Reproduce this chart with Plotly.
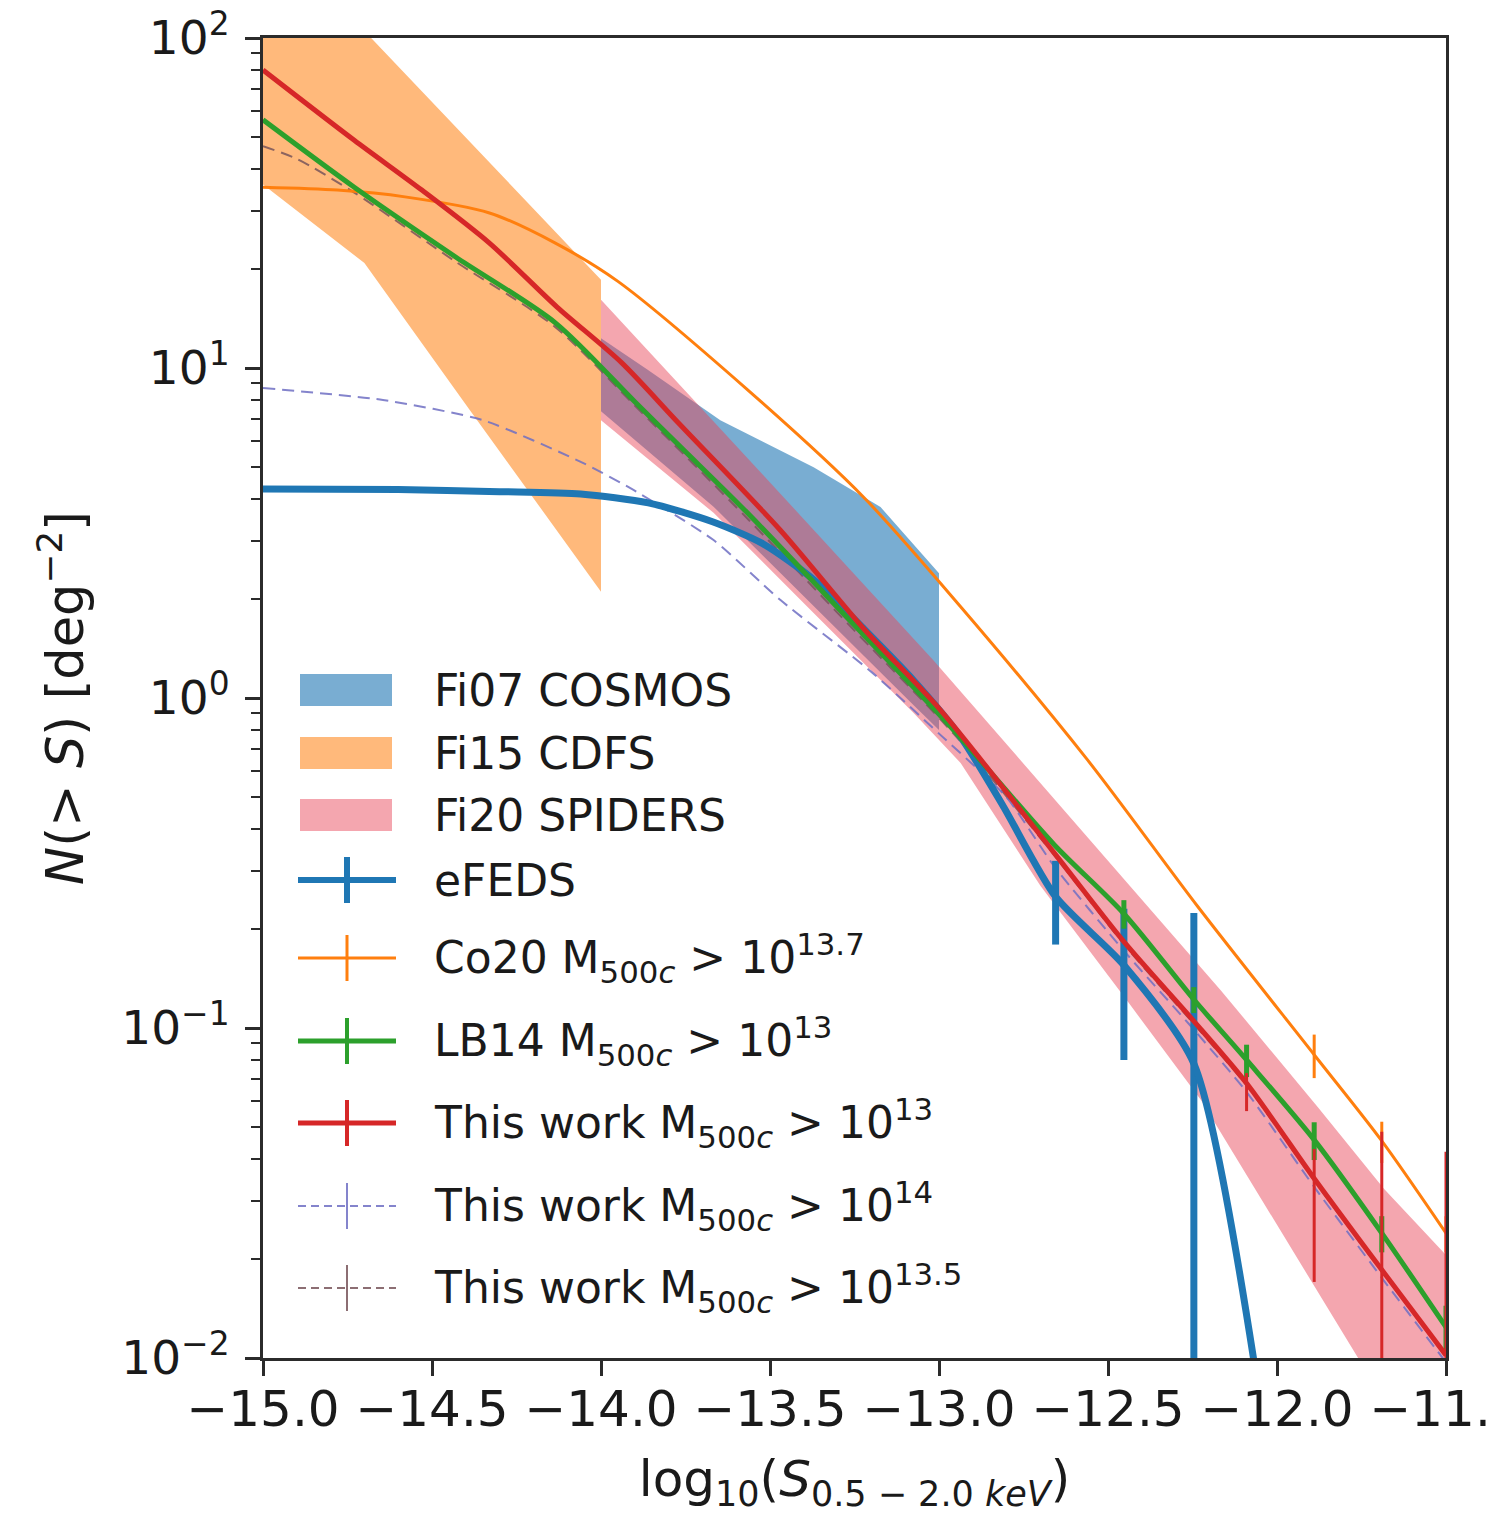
import plotly.graph_objects as go

# ---------------- data ----------------
x_ticks = [-15.0, -14.5, -14.0, -13.5, -13.0, -12.5, -12.0, -11.5]
x_tick_labels = ["−15.0", "−14.5", "−14.0", "−13.5", "−13.0", "−12.5", "−12.0", "−11.5"]
y_ticks = [0.01, 0.1, 1, 10, 100]
y_tick_labels = ["10<sup>−2</sup>", "10<sup>−1</sup>", "10<sup>0</sup>", "10<sup>1</sup>", "10<sup>2</sup>"]

# Fi07 COSMOS band
cosmos_x_up = [-14.0, -13.863, -13.647, -13.371, -13.173, -13.0]
cosmos_y_up = [12.3, 9.9, 6.95, 5.0, 3.79, 2.39]
cosmos_x_lo = [-14.0, -13.667, -13.371, -13.075, -13.0]
cosmos_y_lo = [7.4, 3.8, 1.9, 0.95, 0.80]

# Fi15 CDFS band
cdfs_x_up = [-15.0, -14.68, -14.0]
cdfs_y_up = [220, 100, 18.5]
cdfs_x_lo = [-15.0, -14.7, -14.39, -14.0]
cdfs_y_lo = [36, 20.8, 7.5, 2.1]

# Fi20 SPIDERS band
spiders_x_up = [-14.0, -13.5, -13.016, -12.52, -12.166, -11.879, -11.683, -11.5]
spiders_y_up = [16.1, 4.5, 1.30, 0.34, 0.13, 0.0575, 0.0325, 0.0205]
spiders_x_lo = [-14.0, -13.667, -13.371, -13.075, -12.936, -12.7, -12.441, -12.225, -11.76, -11.5]
spiders_y_lo = [6.95, 3.64, 1.81, 0.90, 0.635, 0.27, 0.12, 0.0605, 0.01, 0.0037]

# eFEDS
efeds_x = [-15.0, -14.6, -14.3, -14.06, -13.86, -13.67, -13.52, -13.37, -13.22, -13.075,
           -12.936, -12.81, -12.655, -12.453, -12.246, -12.05]
efeds_y = [4.3, 4.28, 4.22, 4.15, 3.9, 3.42, 2.93, 2.28, 1.61, 1.13,
           0.762, 0.47, 0.25, 0.155, 0.078, 0.0074]
efeds_err_up = [0, 0, 0, 0, 0, 0, 0, 0, 0, 0, 0, 0, 0.071, 0.075, 0.145, 0]
efeds_err_lo = [0, 0, 0, 0, 0, 0, 0, 0, 0, 0, 0, 0, 0.071, 0.075, 0.0775, 0]

# Co20 M500c > 10^13.7
co20_x = [-15.0, -14.78, -14.58, -14.33, -14.135, -13.95, -13.567, -13.223, -12.936,
          -12.56, -12.234, -11.89, -11.69, -11.5]
co20_y = [35.3, 34.6, 33.0, 29.5, 23.9, 18.3, 8.6, 4.06, 1.89,
          0.648, 0.233, 0.083, 0.0455, 0.0239]
co20_err = [0, 0, 0, 0, 0, 0, 0, 0, 0, 0, 0, 0.0125, 0.0065, 0.003]

# LB14 M500c > 10^13
lb14_x = [-15.0, -14.73, -14.43, -14.135, -13.9, -13.765, -13.567, -13.25, -12.957,
          -12.66, -12.453, -12.246, -12.09, -11.89, -11.69, -11.5]
lb14_y = [56.5, 35.3, 21.7, 13.7, 7.9, 5.77, 3.64, 1.66, 0.80,
          0.36, 0.222, 0.122, 0.080, 0.0458, 0.0239, 0.0124]
lb14_err = [0, 0, 0, 0, 0, 0, 0, 0, 0, 0, 0.022, 0.011, 0.009, 0.006, 0.003, 0.002]

# This work M500c > 10^13
tw13_x = [-15.0, -14.73, -14.53, -14.33, -14.13, -13.94, -13.77, -13.47, -13.22, -13.0,
          -12.66, -12.45, -12.25, -12.09, -11.89, -11.69, -11.5]
tw13_y = [80, 49, 34.6, 23.9, 15.3, 10.4, 6.8, 3.23, 1.61, 0.93,
          0.34, 0.181, 0.106, 0.068, 0.035, 0.0185, 0.0102]
tw13_err_up = [0, 0, 0, 0, 0, 0, 0, 0, 0, 0, 0, 0, 0, 0.005, 0.008, 0.030, 0.032]
tw13_err_lo = [0, 0, 0, 0, 0, 0, 0, 0, 0, 0, 0, 0, 0, 0.012, 0.018, 0.0183, 0.0101]

# This work M500c > 10^14
tw14_x = [-15.0, -14.645, -14.349, -14.052, -13.904, -13.667, -13.469, -13.2, -13.0, -12.8,
          -12.66, -12.45, -12.25, -12.09, -11.89, -11.69, -11.5]
tw14_y = [8.7, 8.0, 6.95, 5.15, 4.27, 3.01, 1.98, 1.2, 0.78, 0.5,
          0.31, 0.17, 0.1, 0.064, 0.033, 0.0175, 0.0097]

# This work M500c > 10^13.5
tw135_x = [-15.0, -14.9, -14.73, -14.43, -14.135, -13.9, -13.567, -13.25, -12.957,
           -12.66, -12.45, -12.25, -12.09, -11.89, -11.69, -11.5]
tw135_y = [47, 43, 34, 21, 13.3, 7.7, 3.5, 1.6, 0.78,
           0.335, 0.178, 0.104, 0.067, 0.0345, 0.0183, 0.0101]

legend_labels = [
    "Fi07 COSMOS",
    "Fi15 CDFS",
    "Fi20 SPIDERS",
    "eFEDS",
    "Co20 M<sub>500<i>c</i></sub> &gt; 10<sup>13.7</sup>",
    "LB14 M<sub>500<i>c</i></sub> &gt; 10<sup>13</sup>",
    "This work M<sub>500<i>c</i></sub> &gt; 10<sup>13</sup>",
    "This work M<sub>500<i>c</i></sub> &gt; 10<sup>14</sup>",
    "This work M<sub>500<i>c</i></sub> &gt; 10<sup>13.5</sup>",
]

# ---------------- styles ----------------
C_BLUE = "#1f77b4"
C_ORANGE = "#ff7f0e"
C_GREEN = "#2ca02c"
C_RED = "#d62728"
C_TW14 = "rgba(110,110,195,0.85)"
C_TW135 = "rgba(120,85,90,0.85)"
F_COSMOS = "rgba(31,119,180,0.6)"
F_CDFS = "rgba(255,127,14,0.55)"
F_SPIDERS = "rgba(232,70,88,0.48)"
AX = "#2b2b2b"
FONT = "DejaVu Sans"

fig = go.Figure()


def band(xu, yu, xl, yl, color):
    fig.add_trace(go.Scatter(
        x=list(xu) + list(xl)[::-1], y=list(yu) + list(yl)[::-1],
        mode="lines", fill="toself", fillcolor=color,
        line=dict(width=0, color=color), hoverinfo="skip", showlegend=False))


band(cosmos_x_up, cosmos_y_up, cosmos_x_lo, cosmos_y_lo, F_COSMOS)
band(cdfs_x_up, cdfs_y_up, cdfs_x_lo, cdfs_y_lo, F_CDFS)
band(spiders_x_up, spiders_y_up, spiders_x_lo, spiders_y_lo, F_SPIDERS)


def curve(x, y, color, width, up=None, lo=None, ew=2.5, dash="solid", smooth=0.8):
    err = None
    if up is not None:
        err = dict(type="data", array=up, arrayminus=lo if lo is not None else up,
                   symmetric=False, color=color, thickness=ew, width=0, visible=True)
    fig.add_trace(go.Scatter(x=x, y=y, mode="lines",
                             line=dict(color=color, width=width, dash=dash,
                                       shape="spline", smoothing=smooth),
                             error_y=err, showlegend=False))


curve(tw135_x, tw135_y, C_TW135, 2, dash="12px,7px")
curve(tw14_x, tw14_y, C_TW14, 2, dash="12px,7px", smooth=0.6)
curve(efeds_x, efeds_y, C_BLUE, 7, efeds_err_up, efeds_err_lo, ew=7, smooth=0.7)
curve(co20_x, co20_y, C_ORANGE, 3, co20_err, co20_err, ew=3)
curve(lb14_x, lb14_y, C_GREEN, 5, lb14_err, lb14_err, ew=5)
curve(tw13_x, tw13_y, C_RED, 5, tw13_err_up, tw13_err_lo, ew=3)

# ---------------- axes ----------------
minor_vals = [k * 10.0 ** e for e in range(-2, 2) for k in range(2, 10)]

fig.update_xaxes(
    range=[-15, -11.5], tickvals=x_ticks, ticktext=x_tick_labels,
    ticks="outside", ticklen=15, tickwidth=2.5, tickcolor=AX,
    showline=True, linewidth=3, linecolor=AX, mirror=True,
    showgrid=False, zeroline=False, ticklabelstandoff=-10,
    ticklabeloverflow="allow", automargin=False,
    tickfont=dict(family=FONT, size=50, color="#1a1a1a"),
    title=dict(text="log<sub>10</sub>(<i>S</i><sub>0.5 − 2.0 <i>keV</i></sub>)",
               font=dict(family=FONT, size=50, color="#1a1a1a"), standoff=24),
)
fig.update_yaxes(
    type="log", range=[-2, 2], tickvals=y_ticks, ticktext=y_tick_labels,
    ticks="outside", ticklen=15, tickwidth=2.5, tickcolor=AX,
    minor=dict(ticks="outside", ticklen=9, tickwidth=2, tickcolor=AX,
               tickvals=minor_vals, showgrid=False),
    showline=True, linewidth=3, linecolor=AX, mirror=True,
    showgrid=False, zeroline=False, ticklabelstandoff=6, automargin=False,
    tickfont=dict(family=FONT, size=47, color="#1a1a1a"),
    title=dict(text="<i>N</i>(&gt; <i>S</i>) [deg<sup>−2</sup>]",
               font=dict(family=FONT, size=51, color="#1a1a1a"), standoff=22),
)

# ---------------- legend (drawn in the lower-left of the axes) ----------------
L, R, T, B = 263, 1446, 38, 1358


def px(xp):
    return (xp - L) / (R - L)


def py(yp):
    return (B - yp) / (B - T)


rows = [690, 753, 815, 880, 958, 1041, 1123, 1206, 1288]
sw_x0, sw_x1, tick_x, text_x = 300, 392, 347, 432
patch_colors = [F_COSMOS, F_CDFS, F_SPIDERS]
for yc, col in zip(rows[:3], patch_colors):
    fig.add_shape(type="rect", xref="paper", yref="paper",
                  x0=px(sw_x0), x1=px(sw_x1), y0=py(yc + 16), y1=py(yc - 16),
                  fillcolor=col, line=dict(width=0))
line_items = [
    (C_BLUE, 6, 6, "solid"),
    (C_ORANGE, 3, 3, "solid"),
    (C_GREEN, 5, 4, "solid"),
    (C_RED, 5, 4, "solid"),
    (C_TW14, 2, 2, "8px,5px"),
    (C_TW135, 2, 2, "8px,5px"),
]
for yc, (col, lw, tw, ds) in zip(rows[3:], line_items):
    fig.add_shape(type="line", xref="paper", yref="paper",
                  x0=px(sw_x0 - 2), x1=px(sw_x1 + 4), y0=py(yc), y1=py(yc),
                  line=dict(color=col, width=lw, dash=ds))
    fig.add_shape(type="line", xref="paper", yref="paper",
                  x0=px(tick_x), x1=px(tick_x), y0=py(yc - 23), y1=py(yc + 23),
                  line=dict(color=col, width=tw))
for yc, lab in zip(rows, legend_labels):
    fig.add_annotation(xref="paper", yref="paper", x=px(text_x), y=py(yc),
                       xanchor="left", yanchor="middle", showarrow=False,
                       text=lab, font=dict(family=FONT, size=44, color="#1a1a1a"))

fig.update_layout(
    width=1487, height=1514,
    margin=dict(l=L, r=1487 - R, t=T, b=1514 - B, pad=0, autoexpand=False),
    plot_bgcolor="white", paper_bgcolor="white",
    showlegend=False,
    font=dict(family=FONT, color="#1a1a1a"),
)

fig.write_html("out.html")
